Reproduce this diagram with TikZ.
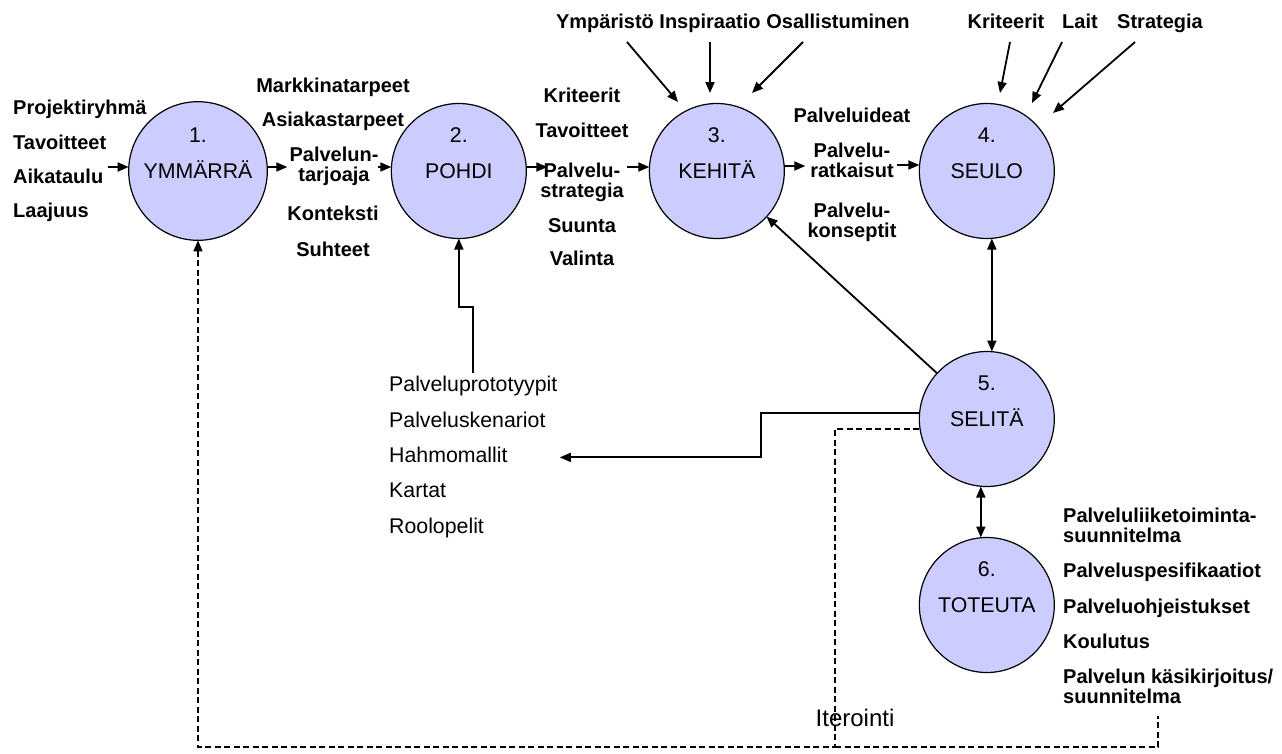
\documentclass[tikz,border=0pt]{standalone}
\usepackage{fontspec}
\setmainfont{Liberation Sans}
\usetikzlibrary{arrows.meta,positioning}
\definecolor{stagefill}{RGB}{204,204,255}
\tikzstyle{arrow} = [line width=1.8pt,-{Triangle[length=11pt,width=9pt]}]
\tikzstyle{dblarrow} = [line width=1.8pt,{Triangle[length=11pt,width=9pt]}-{Triangle[length=11pt,width=9pt]}]
\tikzstyle{dashline} = [line width=1.4pt, dash pattern=on 6pt off 3.5pt]
\tikzstyle{stage} = [circle, draw, line width=1.2pt, fill=stagefill, minimum size=135pt,
    inner sep=0pt, outer sep=0pt, align=center, font=\fontsize{21.3}{36}\selectfont]
\tikzstyle{lbl} = [inner sep=2pt, align=center, font=\fontsize{20}{20}\selectfont\bfseries]
\tikzstyle{lbllight} = [inner sep=2pt, font=\fontsize{21.3}{24}\selectfont]

\begin{document}
\begin{tikzpicture}[x=1pt,y=1pt]
\useasboundingbox (0,0) rectangle (1282,-753);

% the six stages
\node[stage] (c1) at (198,-171) {1.\\YMMÄRRÄ\\\mbox{}};
\node[stage, right=124pt of c1] (c2) {2.\\POHDI\\\mbox{}};
\node[stage, right=123pt of c2] (c3) {3.\\KEHITÄ\\\mbox{}};
\node[stage, right=135pt of c3] (c4) {4.\\SEULO\\\mbox{}};
\node[stage, below=113pt of c4] (c5) {5.\\SELITÄ\\\mbox{}};
\node[stage, below=51pt of c5] (c6) {6.\\TOTEUTA\\\mbox{}};

% inputs of stage 1
\node[lbl, anchor=base west] (proj) at (11,-114) {Projektiryhmä};
\node[lbl, anchor=base west] (tav1) at (11,-149) {Tavoitteet};
\node[lbl, anchor=base west] (aika) at (11,-183) {Aikataulu};
\node[lbl, anchor=base west] (laaj) at (11,-217) {Laajuus};

% between 1 and 2
\node[lbl, anchor=base] (markk) at (333,-92) {Markkinatarpeet};
\node[lbl, anchor=base] (asiak) at (333,-126) {Asiakastarpeet};
\node[lbl, anchor=north] (tarj) at (334,-144.7) {Palvelun-\\tarjoaja};
\node[lbl, anchor=base] (kont) at (333,-220) {Konteksti};
\node[lbl, anchor=base] (suht) at (333,-256) {Suhteet};

% between 2 and 3
\node[lbl, anchor=base] (krit1) at (582,-102) {Kriteerit};
\node[lbl, anchor=base] (tav2) at (582,-137) {Tavoitteet};
\node[lbl, anchor=north] (strat1) at (582,-160.7) {Palvelu-\\strategia};
\node[lbl, anchor=base] (suun) at (582,-232) {Suunta};
\node[lbl, anchor=base] (vali) at (582,-265) {Valinta};

% between 3 and 4
\node[lbl, anchor=base] (ideat) at (852,-122) {Palveluideat};
\node[lbl, anchor=north] (ratk) at (852,-140.7) {Palvelu-\\ratkaisut};
\node[lbl, anchor=north] (kons) at (852,-200.7) {Palvelu-\\konseptit};

% top inputs
\node[lbl, anchor=base] (ymp) at (605,-28) {Ympäristö};
\node[lbl, anchor=base] (insp) at (710,-28) {Inspiraatio};
\node[lbl, anchor=base] (osal) at (838,-28) {Osallistuminen};
\node[lbl, anchor=base] (krit2) at (1006,-28) {Kriteerit};
\node[lbl, anchor=base] (lait) at (1080,-28) {Lait};
\node[lbl, anchor=base] (strat2) at (1160,-28) {Strategia};

% outputs of stage 6
\node[lbl, anchor=north west, align=left] (liike) at (1061,-505.7) {Palveluliiketoiminta-\\suunnitelma};
\node[lbl, anchor=base west] (spes) at (1061,-577) {Palveluspesifikaatiot};
\node[lbl, anchor=base west] (ohje) at (1061,-613) {Palveluohjeistukset};
\node[lbl, anchor=base west] (koul) at (1061,-648) {Koulutus};
\node[lbl, anchor=north west, align=left] (kasik) at (1061,-666.7) {Palvelun käsikirjoitus/\\suunnitelma};

% outputs of stage 5
\node[lbllight, anchor=base west] (proto) at (387,-391) {Palveluprototyypit};
\node[lbllight, anchor=base west] (sken) at (387,-427) {Palveluskenariot};
\node[lbllight, anchor=base west] (hahmo) at (387,-462) {Hahmomallit};
\node[lbllight, anchor=base west] (kart) at (387,-497) {Kartat};
\node[lbllight, anchor=base west] (rool) at (387,-533) {Roolopelit};

\node[lbllight, font=\fontsize{24}{24}\selectfont, anchor=base] (iter) at (855,-726) {Iterointi};
\coordinate (iterjoint) at (835,-747);

% main flow
\draw[arrow] ([shift={(-21,4)}]c1.west) -- ([yshift=4pt]c1.west);
\draw[arrow] ([yshift=4pt]c1.east) -- ++(20,0);
\draw[arrow] ([shift={(-13,4)}]c2.west) -- ([yshift=4pt]c2.west);
\draw[arrow] ([yshift=4pt]c2.east) -- ++(21,0);
\draw[arrow] ([shift={(-22,4)}]c3.west) -- ([yshift=4pt]c3.west);
\draw[arrow] ([yshift=5pt]c3.east) -- ++(21,0);
\draw[arrow] ([shift={(-22,6)}]c4.west) -- ([yshift=6pt]c4.west);

% top inputs
\draw[arrow] ([shift={(22,-14)}]ymp.base) -- ++(51,-60);
\draw[arrow] ([shift={(0,-14)}]insp.base) -- ++(0,-51);
\draw[arrow] ([shift={(-35,-14)}]osal.base) -- ++(-51,-51);
\draw[arrow] ([shift={(4,-14)}]krit2.base) -- ++(-10,-51);
\draw[arrow] ([shift={(-18,-14)}]lait.base) -- ++(-30,-61);
\draw[arrow] ([shift={(-25,-14)}]strat2.base) -- ++(-82,-71);

% vertical links
\draw[dblarrow] ([xshift=5pt]c4.south) -- ([xshift=5pt]c5.north);
\draw[dblarrow] ([xshift=-6pt]c5.south) -- ([xshift=-6pt]c6.north);
\draw[arrow] (c5) -- (c3);
\draw[arrow] (proto.north) -- ++(0,66) -| (c2.south);
\draw[arrow] ([yshift=6pt]c5.west) -- ++(-158,0) |- ([shift={(50,-3)}]hahmo.east);

% iteration loop
\draw[dashline, -{Triangle[length=11pt,width=9pt]}] ([yshift=-10pt]c5.west) -| (iterjoint) -| (c1.south);
\draw[dashline] (iterjoint) -- ++(323,0) -- ++(0,31);
\end{tikzpicture}
\end{document}
